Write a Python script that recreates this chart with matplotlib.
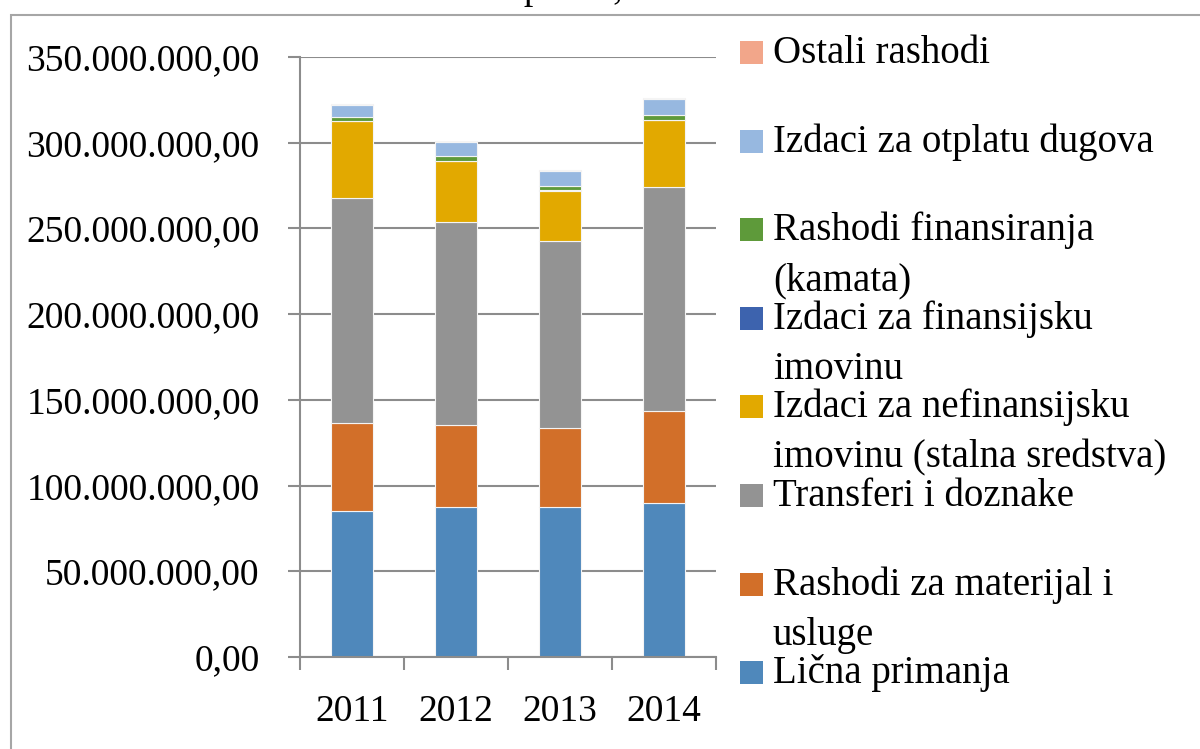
import matplotlib
matplotlib.use("Agg")
import matplotlib.pyplot as plt
import matplotlib.patches as mpatches
from matplotlib.ticker import FuncFormatter, FixedLocator
import numpy as np

plt.rcParams['font.family'] = ['Liberation Serif', 'DejaVu Serif']

# DATA (iznosi u milionima)
years = ['2011', '2012', '2013', '2014']
licna_primanja = [85.2, 87.3, 87.3, 89.7]
materijal_usluge = [51.1, 48.2, 46.1, 54.0]
transferi = [131.3, 118.4, 109.4, 130.7]
nefinansijska = [45.1, 35.4, 29.2, 38.7]
finansijska = [0.2, 0.2, 0.2, 0.2]
kamata = [2.3, 2.6, 2.8, 2.7]
otplata_dugova = [6.6, 8.2, 8.5, 9.4]
ostali = [0.8, 0.6, 0.4, 0.4]

series = [licna_primanja, materijal_usluge, transferi, nefinansijska,
          finansijska, kamata, otplata_dugova, ostali]
labels = ['Lična primanja',
          'Rashodi za materijal i\nusluge',
          'Transferi i doznake',
          'Izdaci za nefinansijsku\nimovinu (stalna sredstva)',
          'Izdaci za finansijsku\nimovinu',
          'Rashodi finansiranja\n(kamata)',
          'Izdaci za otplatu dugova',
          'Ostali rashodi']
colors = ['#4f88bb', '#d26f29', '#939393', '#e2a900',
          '#3d63ae', '#5e9a3a', '#97b8e0', '#f2a68a']

W, H = 1200, 749
fig = plt.figure(figsize=(12, 7.49), dpi=100)
ax = fig.add_axes([300 / W, 1 - 657 / H, 416 / W, 600 / H])

x = np.arange(len(years))
bottom = np.zeros(len(years))
for vals, col in zip(series, colors):
    v = np.array(vals) * 1e6
    ax.bar(x, v, 0.4, bottom=bottom, color=col, edgecolor='#f4f4f4', linewidth=0.8)
    bottom += v

grid_c = '#8c8c8c'
ax.set_xlim(-0.5, 3.5)
ax.set_ylim(0, 350e6)
ax.set_yticks(np.arange(0, 350e6 + 1, 50e6))
ax.yaxis.set_major_formatter(FuncFormatter(
    lambda v, p: '{:,.2f}'.format(v).replace(',', 'X').replace('.', ',').replace('X', '.')))
ax.grid(axis='y', color=grid_c, linewidth=1.5)
ax.set_axisbelow(True)
for s in ['top', 'right']:
    ax.spines[s].set_visible(False)
for s in ['left', 'bottom']:
    ax.spines[s].set_color(grid_c)
    ax.spines[s].set_linewidth(1.5)

ax.set_xticks(x)
ax.set_xticklabels(years)
ax.xaxis.set_minor_locator(FixedLocator(np.arange(-0.5, 4, 1)))
ax.tick_params(axis='x', which='major', length=0, pad=27, labelsize=27)
ax.tick_params(axis='x', which='minor', length=9, width=1.5, color=grid_c, direction='out')
ax.tick_params(axis='y', length=9, width=1.5, color=grid_c, pad=20, labelsize=27)

# legenda (obrnuti redoslijed, kao u Excelu)
for i, (lab, col) in enumerate(zip(labels[::-1], colors[::-1])):
    yc = 52.5 + i * 88.6
    fig.add_artist(mpatches.Rectangle((740 / W, 1 - (yc + 11.5) / H), 23 / W, 23 / H,
                                      transform=fig.transFigure, facecolor=col,
                                      edgecolor='none'))
    for k, line in enumerate(lab.split('\n')):
        fig.text(773 / W, 1 - (yc + 10.5 + k * 50) / H, line, fontsize=28,
                 va='baseline', ha='left')

# okvir i naslov (naslov je odsječen na vrhu)
fig.add_artist(mpatches.Rectangle((11 / W, -0.1), 1.2, 1.1 - 15 / H,
                                  transform=fig.transFigure, facecolor='none',
                                  edgecolor='#a6a6a6', linewidth=1.5))
fig.text(373 / W, 1 + 1 / H, 'Rashodi opštine, 2011-2014', fontsize=27,
         va='baseline', ha='left')

fig.savefig('out.png', dpi=100)
